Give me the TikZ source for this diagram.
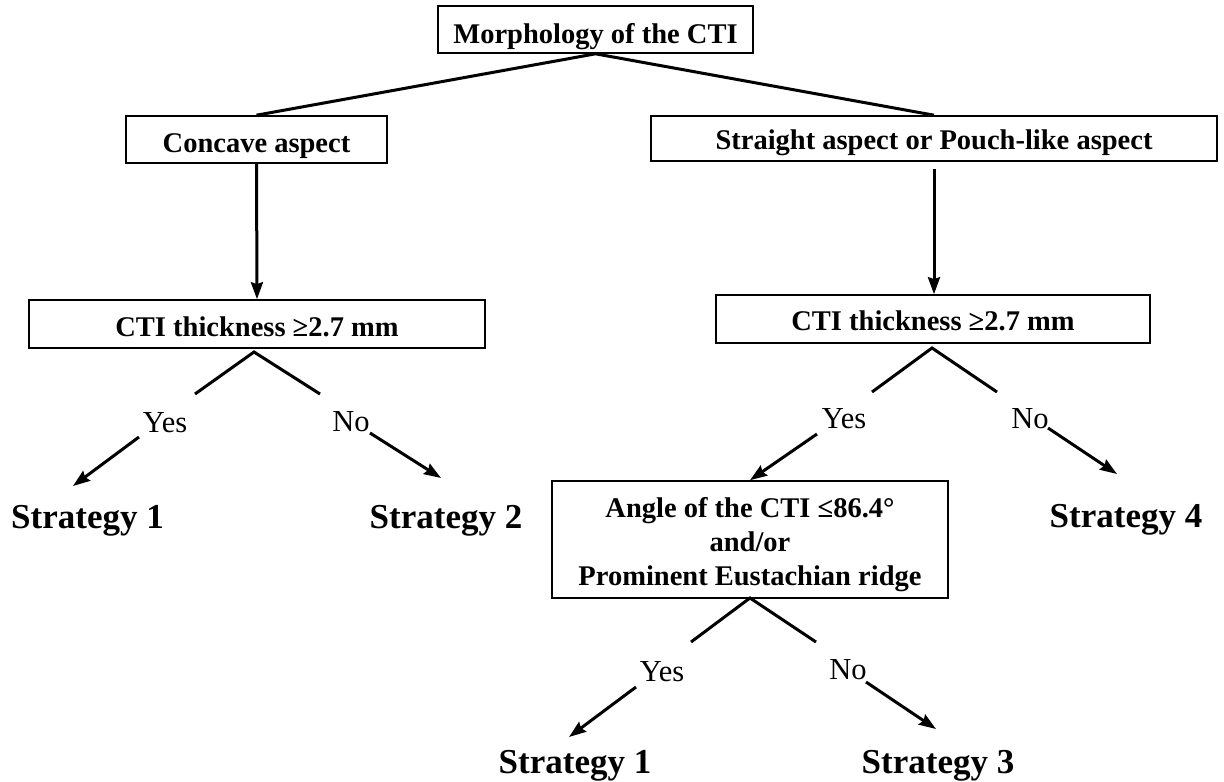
\documentclass[tikz,border=0pt]{standalone}
\usepackage{fontspec}
\setmainfont{Liberation Serif}
\usetikzlibrary{arrows.meta,calc}
\begin{document}
\begin{tikzpicture}[x=1pt,y=-1pt,
  box/.style={draw=black,line width=1.6pt,inner sep=0pt,
    font=\fontsize{28.5}{34}\selectfont\bfseries,text depth=0pt},
  boxtext/.style={inner sep=0pt,font=\fontsize{28.5}{34}\selectfont\bfseries},
  strat/.style={anchor=base,inner sep=0pt,font=\fontsize{35}{40}\selectfont\bfseries},
  yn/.style={anchor=base,inner sep=0pt,font=\fontsize{30.5}{36}\selectfont},
  conn/.style={line width=3pt},
  arr/.style={line width=3pt,-{Stealth[length=17pt,width=12pt,inset=2pt]}}]
\useasboundingbox (0,0) rectangle (1224,782);

% boxes
\node[box,minimum width=315pt,minimum height=47pt,text height=27pt] (top) at (595.5,29.5) {Morphology of the CTI};
\node[box,minimum width=261pt,minimum height=47pt,text height=25pt] (concave) at (256.5,139.5) {Concave aspect};
\node[box,minimum width=566pt,minimum height=45pt,text height=21pt] (straight) at (934,138.5) {Straight aspect or Pouch-like aspect};
\node[box,minimum width=456pt,minimum height=48pt,text height=24pt] (lcti) at (257,324) {CTI thickness ≥2.7 mm};
\node[box,minimum width=434pt,minimum height=48pt,text height=22pt] (rcti) at (933,319) {CTI thickness ≥2.7 mm};
\node[box,minimum width=396pt,minimum height=117pt] (angle) at (750,539.5) {};
\node[boxtext,align=center,anchor=north] (angtxt) at (750,497.5)
  {Angle of the CTI ≤86.4°\\and/or\\Prominent Eustachian ridge};

% top connectors
\draw[conn] (concave.north) -- (top.south) -- (straight.north);
\draw[arr] (concave.south) -- (lcti.north);
\draw[arr] ($(straight.south)+(0,7)$) -- (straight.south |- rcti.north);

% left branch
\coordinate (lap) at (254,352);
\coordinate (lal) at (195,394);
\coordinate (lar) at (320,394);
\draw[conn] (lal) -- (lap) -- (lar);
\node[yn] (lyes) at (165,432) {Yes};
\node[yn] (lno) at (351,431) {No};
\coordinate (lys) at (139,437);
\coordinate (lye) at (73,486);
\coordinate (lns) at (370,433);
\coordinate (lne) at (441,478);
\draw[arr] (lys) -- (lye);
\draw[arr] (lns) -- (lne);
\node[strat] (s1a) at (87.5,528) {Strategy 1};
\node[strat] (s2) at (446,528) {Strategy 2};

% right branch
\coordinate (rap) at (932,348);
\coordinate (ral) at (872,392);
\coordinate (rar) at (997,392);
\draw[conn] (ral) -- (rap) -- (rar);
\node[yn] (ryes) at (844,428) {Yes};
\node[yn] (rno) at (1030,428) {No};
\coordinate (rys) at (817,434);
\coordinate (rns) at (1048,428);
\coordinate (rne) at (1117,474);
\draw[arr] (rys) -- (angle.north);
\draw[arr] (rns) -- (rne);
\node[strat] (s4) at (1126,527) {Strategy 4};

% bottom branch
\coordinate (bap) at (750,598);
\coordinate (bal) at (691,642);
\coordinate (bar) at (816,642);
\draw[conn] (bal) -- (bap) -- (bar);
\node[yn] (byes) at (662,681) {Yes};
\node[yn] (bno) at (848,679) {No};
\coordinate (bys) at (636,687);
\coordinate (bye) at (569,737);
\coordinate (bns) at (866,682);
\coordinate (bne) at (936,729);
\draw[arr] (bys) -- (bye);
\draw[arr] (bns) -- (bne);
\node[strat] (s1b) at (575,773) {Strategy 1};
\node[strat] (s3) at (938,773) {Strategy 3};
\end{tikzpicture}
\end{document}
